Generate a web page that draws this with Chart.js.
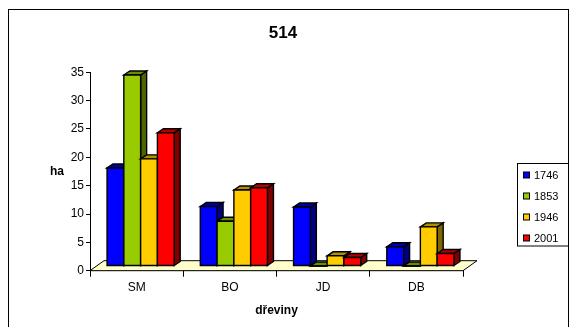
<!DOCTYPE html>
<html>
<head>
<meta charset="utf-8">
<script src="https://cdn.jsdelivr.net/npm/chart.js@4/dist/chart.umd.min.js"></script>
<style>
  html, body { margin: 0; padding: 0; background: #fff; }
  #wrap { width: 571px; height: 327px; }
</style>
</head>
<body>
<div id="wrap"><canvas id="c" width="571" height="327"></canvas></div>
<script>
// Tree species (dřeviny) and area in hectares per survey year
const categories = ['SM', 'BO', 'JD', 'DB'];
const years = ['1746', '1853', '1946', '2001'];
const values1746 = [17.3, 10.5, 10.4, 3.4];
const values1853 = [33.7, 7.9, 0, 0];
const values1946 = [18.9, 13.4, 1.8, 6.9];
const values2001 = [23.5, 13.8, 1.5, 2.2];
const seriesValues = [values1746, values1853, values1946, values2001];

const frontColors = ['#0000FF', '#99CC00', '#FFCC00', '#FF0000'];
const topColors   = ['#0000A8', '#6B8E00', '#B38F00', '#B30000'];
const sideColors  = ['#000080', '#4D6600', '#806600', '#800000'];

const FONT = "'Liberation Sans', Arial, sans-serif";

// offsets of the 3D look: bar plane inside the floor, and bar depth
const PLANE_DX = 4, PLANE_DY = -4.7;
const DEPTH_DX = 6, DEPTH_DY = -4;
const FLOOR_DX = 14, FLOOR_DY = -10;

const floorPlugin = {
  id: 'floor',
  beforeDatasetsDraw(chart) {
    const { ctx, chartArea } = chart;
    const y0 = chart.scales.y.getPixelForValue(0);
    const l = chartArea.left, r = chartArea.right;
    ctx.save();
    ctx.beginPath();
    ctx.moveTo(l, y0);
    ctx.lineTo(r, y0);
    ctx.lineTo(r + FLOOR_DX, y0 + FLOOR_DY);
    ctx.lineTo(l + FLOOR_DX, y0 + FLOOR_DY);
    ctx.closePath();
    ctx.fillStyle = '#FFFFCC';
    ctx.fill();
    ctx.strokeStyle = '#000';
    ctx.lineWidth = 1;
    ctx.stroke();
    ctx.restore();
  }
};

const boxes3d = {
  id: 'boxes3d',
  afterDatasetsDraw(chart) {
    const ctx = chart.ctx;
    ctx.save();
    ctx.lineWidth = 1.4;
    ctx.strokeStyle = '#000';
    ctx.lineJoin = 'miter';
    chart.data.datasets.forEach((ds, di) => {
      const meta = chart.getDatasetMeta(di);
      meta.data.forEach(el => {
        const p = el.getProps(['x', 'y', 'base', 'width'], true);
        const left = p.x - p.width / 2 + PLANE_DX;
        const right = p.x + p.width / 2 + PLANE_DX;
        const top = p.y + PLANE_DY;
        const bottom = p.base + PLANE_DY;
        // side face
        ctx.beginPath();
        ctx.moveTo(right, top);
        ctx.lineTo(right + DEPTH_DX, top + DEPTH_DY);
        ctx.lineTo(right + DEPTH_DX, bottom + DEPTH_DY);
        ctx.lineTo(right, bottom);
        ctx.closePath();
        ctx.fillStyle = sideColors[di];
        ctx.fill();
        ctx.stroke();
        // top face
        ctx.beginPath();
        ctx.moveTo(left, top);
        ctx.lineTo(left + DEPTH_DX, top + DEPTH_DY);
        ctx.lineTo(right + DEPTH_DX, top + DEPTH_DY);
        ctx.lineTo(right, top);
        ctx.closePath();
        ctx.fillStyle = topColors[di];
        ctx.fill();
        ctx.stroke();
        // front face
        ctx.beginPath();
        ctx.rect(left, top, right - left, bottom - top);
        ctx.fillStyle = frontColors[di];
        ctx.fill();
        ctx.stroke();
      });
    });
    ctx.restore();
  }
};

const decorations = {
  id: 'decorations',
  afterDraw(chart) {
    const ctx = chart.ctx;
    ctx.save();
    // outer frame
    ctx.strokeStyle = '#000';
    ctx.lineWidth = 1;
    ctx.strokeRect(8.5, 9.5, 560, 330);
    // chart title
    ctx.fillStyle = '#000';
    ctx.textAlign = 'center';
    ctx.textBaseline = 'middle';
    ctx.font = 'bold 17px ' + FONT;
    ctx.fillText('514', 283, 33);
    // value axis title
    ctx.font = 'bold 12px ' + FONT;
    ctx.fillText('ha', 57, 172);
    // legend
    const lx = 517.5, ly = 163.5, lw = 51, lh = 82.5;
    ctx.fillStyle = '#fff';
    ctx.fillRect(lx, ly, lw, lh);
    ctx.strokeRect(lx, ly, lw, lh);
    ctx.font = '11px ' + FONT;
    ctx.textAlign = 'left';
    chart.data.datasets.forEach((ds, i) => {
      const cy = 175.5 + i * 21;
      ctx.fillStyle = frontColors[i];
      ctx.fillRect(523.5, cy - 3.5, 6, 6);
      ctx.strokeRect(523.5, cy - 3.5, 6, 6);
      ctx.fillStyle = '#000';
      ctx.fillText(ds.label, 534, cy + 0.5);
    });
    ctx.restore();
  }
};

new Chart(document.getElementById('c'), {
  type: 'bar',
  data: {
    labels: categories,
    datasets: years.map((yr, i) => ({
      label: yr,
      data: seriesValues[i],
      backgroundColor: 'rgba(0,0,0,0)',
      borderWidth: 0,
      categoryPercentage: 0.72,
      barPercentage: 1.0
    }))
  },
  options: {
    responsive: false,
    animation: false,
    layout: { padding: { left: 60, right: 108, top: 72.3, bottom: 8.3 } },
    plugins: {
      legend: { display: false },
      title: { display: false },
      tooltip: { enabled: false }
    },
    scales: {
      x: {
        afterFit(s) { s.height = 48; },
        grid: {
          offset: true,
          drawOnChartArea: false,
          drawTicks: true,
          tickLength: 6,
          color: '#000'
        },
        border: { display: true, color: '#000', width: 1 },
        ticks: { color: '#000', padding: 4, font: { family: FONT, size: 12 } },
        title: {
          display: true,
          text: 'dřeviny',
          color: '#000',
          font: { family: FONT, size: 12, weight: 'bold' },
          padding: { top: 4, bottom: 1 }
        }
      },
      y: {
        min: 0,
        max: 35,
        afterFit(s) { s.width = 30; },
        grid: {
          drawOnChartArea: false,
          drawTicks: true,
          tickLength: 4,
          color: '#000'
        },
        border: { display: true, color: '#000', width: 1 },
        ticks: { stepSize: 5, color: '#000', padding: 2, font: { family: FONT, size: 12 } }
      }
    }
  },
  plugins: [floorPlugin, boxes3d, decorations]
});
</script>
</body>
</html>
